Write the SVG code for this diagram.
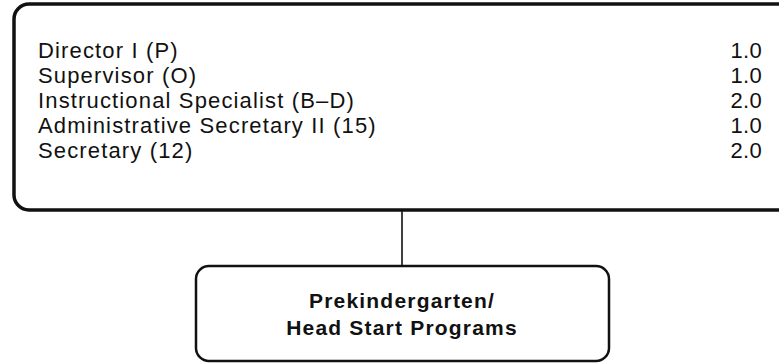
<svg xmlns="http://www.w3.org/2000/svg" width="779" height="363" viewBox="0 0 779 363">
<style>
.box{fill:#fff;stroke:#111;}
.t{font-family:"Liberation Sans",Arial,sans-serif;font-size:22px;letter-spacing:1.15px;fill:#111;}
.n{text-anchor:end;letter-spacing:0.3px;}
.b{font-family:"Liberation Sans",Arial,sans-serif;font-size:21px;letter-spacing:1.2px;font-weight:bold;fill:#111;text-anchor:middle;}
</style>
<rect width="779" height="363" fill="#fff"/>
<g id="connectors">
<line x1="402" y1="210" x2="402" y2="266" stroke="#111" stroke-width="1.6"/>
</g>
<g id="staff">
<rect class="box" x="14" y="4" width="790" height="206" rx="15" stroke-width="3.5"/>
<text class="t" x="38" y="58">Director I (P)</text>
<text class="t" x="38" y="83">Supervisor (O)</text>
<text class="t" x="38" y="108">Instructional Specialist (B–D)</text>
<text class="t" x="38" y="133">Administrative Secretary II (15)</text>
<text class="t" x="38" y="158">Secretary (12)</text>
<text class="t n" x="762" y="58">1.0</text>
<text class="t n" x="762" y="83">1.0</text>
<text class="t n" x="762" y="108">2.0</text>
<text class="t n" x="762" y="133">1.0</text>
<text class="t n" x="762" y="158">2.0</text>
</g>
<g id="program">
<rect class="box" x="196" y="266" width="413" height="95" rx="13" stroke-width="2.5"/>
<text class="b" x="402" y="308">Prekindergarten/</text>
<text class="b" x="402" y="335">Head Start Programs</text>
</g>
</svg>
